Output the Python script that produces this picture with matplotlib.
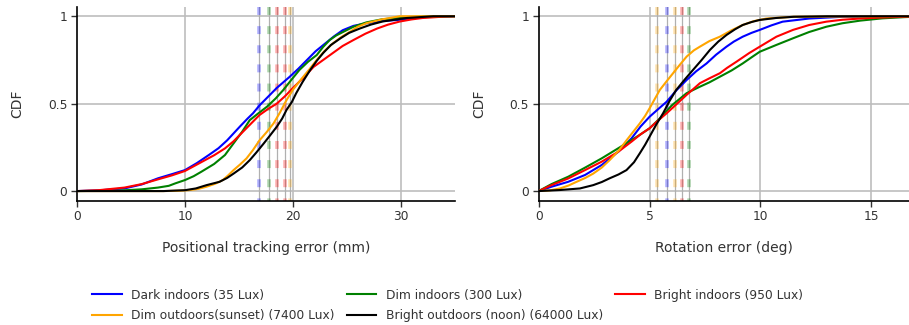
import matplotlib
matplotlib.use("Agg")
import matplotlib.pyplot as plt

# series labels and colours
labels = ["Dark indoors (35 Lux)", "Dim indoors (300 Lux)", "Bright indoors (950 Lux)",
          "Dim outdoors(sunset) (7400 Lux)", "Bright outdoors (noon) (64000 Lux)"]
colors = ["blue", "green", "red", "orange", "black"]

# positional tracking error (mm) vs CDF
pos_dark_x = [0, 2, 4.4, 6, 7.5, 8.8, 10, 11.1, 12.2, 13.1, 13.9, 14.5, 15.1, 15.8, 16.3, 16.9, 17.7, 18.5, 19.7, 20.5, 21.3, 22.1, 23.0, 23.8, 24.6, 25.6, 26.8, 28.2, 29.9, 32, 35]
pos_dark_y = [0, 0.004, 0.015, 0.038, 0.073, 0.097, 0.12, 0.16, 0.206, 0.245, 0.29, 0.33, 0.37, 0.415, 0.445, 0.49, 0.54, 0.59, 0.654, 0.7, 0.75, 0.8, 0.845, 0.885, 0.92, 0.945, 0.96, 0.972, 0.98, 0.995, 1.0]
pos_dim_x = [0, 4, 6, 7.5, 8.5, 9.1, 10, 10.8, 11.5, 12.7, 13.7, 14.5, 15.3, 16.0, 16.8, 17.6, 18.4, 19.1, 19.9, 20.6, 21.4, 22.2, 22.8, 23.4, 24.0, 24.7, 25.6, 26.8, 28.2, 29.9, 32, 35]
pos_dim_y = [0, 0.003, 0.01, 0.02, 0.03, 0.044, 0.063, 0.085, 0.11, 0.155, 0.206, 0.273, 0.34, 0.406, 0.445, 0.483, 0.53, 0.578, 0.64, 0.693, 0.74, 0.778, 0.825, 0.864, 0.89, 0.912, 0.94, 0.965, 0.982, 0.992, 0.998, 1.0]
pos_bright_x = [0, 2, 4.4, 6, 7.5, 8.8, 10, 11.5, 12.7, 13.7, 14.5, 15.7, 16.9, 17.7, 18.5, 19.3, 20.0, 21.0, 21.9, 22.8, 23.7, 24.6, 25.6, 26.7, 27.8, 28.8, 29.9, 31, 32, 34, 35]
pos_bright_y = [0, 0.005, 0.02, 0.04, 0.067, 0.09, 0.115, 0.165, 0.205, 0.244, 0.285, 0.36, 0.435, 0.47, 0.5, 0.545, 0.59, 0.65, 0.71, 0.75, 0.79, 0.83, 0.864, 0.9, 0.93, 0.952, 0.97, 0.982, 0.99, 0.998, 1.0]
pos_sunset_x = [0, 8, 9.5, 10.3, 11.2, 12, 12.8, 13.5, 14.0, 14.5, 15.1, 15.7, 16.3, 16.9, 17.6, 18.2, 18.8, 19.4, 20.0, 20.7, 21.5, 22.2, 22.9, 23.7, 24.5, 25.3, 26.0, 26.8, 28.3, 29.9, 35]
pos_sunset_y = [0, 0.0, 0.002, 0.005, 0.012, 0.025, 0.042, 0.063, 0.09, 0.12, 0.152, 0.187, 0.235, 0.29, 0.34, 0.387, 0.45, 0.52, 0.58, 0.635, 0.695, 0.75, 0.8, 0.845, 0.882, 0.912, 0.94, 0.96, 0.983, 1.0, 1.0]
pos_noon_x = [0, 8, 10, 11, 12, 13.2, 13.9, 14.5, 15.3, 16.0, 16.6, 17.3, 17.9, 18.5, 19.0, 19.4, 19.9, 20.3, 20.9, 21.6, 22.2, 22.8, 23.5, 24.4, 25.2, 26.2, 27.2, 28.3, 30.5, 33, 35]
pos_noon_y = [0, 0.0, 0.005, 0.015, 0.034, 0.053, 0.075, 0.1, 0.135, 0.177, 0.22, 0.273, 0.32, 0.368, 0.415, 0.464, 0.51, 0.56, 0.625, 0.693, 0.745, 0.79, 0.835, 0.874, 0.905, 0.93, 0.952, 0.97, 0.99, 1.0, 1.0]

# rotation error (deg) vs CDF
rot_dark_x = [0, 0.58, 1.33, 2.09, 2.84, 3.59, 4.19, 4.6, 5.0, 5.4, 5.77, 6.2, 6.67, 7.1, 7.57, 8.0, 8.47, 8.8, 9.2, 9.6, 9.97, 10.5, 11.0, 12.2, 13.7, 16.7]
rot_dark_y = [0, 0.025, 0.053, 0.092, 0.149, 0.225, 0.302, 0.37, 0.425, 0.47, 0.511, 0.575, 0.635, 0.685, 0.73, 0.78, 0.826, 0.855, 0.883, 0.905, 0.922, 0.948, 0.969, 0.987, 0.997, 1.0]
rot_dim_x = [0, 0.58, 1.33, 2.09, 2.84, 3.59, 4.19, 4.6, 5.0, 5.5, 6.0, 6.67, 7.27, 7.7, 8.17, 8.7, 9.2, 9.6, 9.97, 10.72, 11.47, 12.2, 12.97, 13.7, 14.5, 15.5, 16.5, 16.7]
rot_dim_y = [0, 0.04, 0.082, 0.134, 0.187, 0.245, 0.292, 0.325, 0.359, 0.42, 0.49, 0.56, 0.597, 0.622, 0.654, 0.69, 0.73, 0.765, 0.797, 0.836, 0.874, 0.91, 0.94, 0.96, 0.975, 0.988, 0.995, 0.996]
rot_bright_x = [0, 0.58, 1.33, 2.09, 2.84, 3.59, 4.19, 4.6, 5.0, 5.4, 5.77, 6.2, 6.67, 7.27, 7.7, 8.17, 8.5, 8.92, 9.5, 9.97, 10.72, 11.47, 12.2, 12.97, 13.7, 14.5, 15.5, 16.5, 16.7]
rot_bright_y = [0, 0.034, 0.072, 0.12, 0.168, 0.225, 0.283, 0.325, 0.359, 0.405, 0.445, 0.495, 0.55, 0.617, 0.645, 0.674, 0.705, 0.74, 0.79, 0.826, 0.883, 0.922, 0.95, 0.969, 0.98, 0.987, 0.993, 0.997, 0.998]
rot_sunset_x = [0, 0.5, 0.96, 1.35, 1.71, 2.1, 2.46, 2.85, 3.2, 3.6, 3.96, 4.3, 4.56, 4.8, 5.0, 5.46, 5.75, 6.06, 6.35, 6.67, 7.0, 7.27, 7.7, 8.17, 8.7, 9.2, 9.7, 10.27, 11.5, 16.7]
rot_sunset_y = [0, 0.004, 0.015, 0.032, 0.053, 0.075, 0.1, 0.135, 0.177, 0.23, 0.29, 0.345, 0.387, 0.43, 0.473, 0.578, 0.625, 0.674, 0.72, 0.769, 0.805, 0.826, 0.858, 0.883, 0.92, 0.95, 0.972, 0.987, 0.997, 1.0]
rot_noon_x = [0, 0.96, 1.86, 2.46, 2.85, 3.2, 3.6, 3.96, 4.3, 4.56, 4.8, 5.0, 5.3, 5.61, 5.9, 6.2, 6.6, 6.96, 7.35, 7.72, 8.1, 8.47, 8.85, 9.2, 9.6, 9.97, 10.7, 11.5, 13, 16.7]
rot_noon_y = [0, 0.006, 0.015, 0.034, 0.052, 0.073, 0.095, 0.12, 0.165, 0.216, 0.265, 0.311, 0.38, 0.445, 0.515, 0.578, 0.64, 0.693, 0.75, 0.807, 0.855, 0.893, 0.925, 0.95, 0.967, 0.979, 0.99, 0.997, 1.0, 1.0]

# dashed marker lines (as they appear, left to right)
pos_marks = [16.9, 17.75, 18.5, 19.26, 19.75]
pos_mark_colors = ["blue", "green", "red", "red", "orange"]
rot_marks = [5.33, 5.78, 6.15, 6.47, 6.77]
rot_mark_colors = ["orange", "blue", "orange", "red", "green"]

ylo, yhi = -0.055, 1.053

fig = plt.figure(figsize=(9.09, 3.25), dpi=100)
ax1 = fig.add_axes([0.0847, 0.3825, 0.4158, 0.596])
ax2 = fig.add_axes([0.5926, 0.3825, 0.4074, 0.596])


def style_axis(ax, xmax, xticks, xlabel):
    ax.set_xlim(0, xmax)
    ax.set_ylim(ylo, yhi)
    ax.set_xticks(xticks)
    ax.set_xticklabels([str(t) for t in xticks])
    ax.set_yticks([0, 0.5, 1])
    ax.set_yticklabels(["0", "0.5", "1"])
    for t in xticks[1:]:
        ax.axvline(t, color="#bdbdbd", lw=1.2, zorder=0)
    for t in [0, 0.5, 1]:
        ax.axhline(t, color="#bdbdbd", lw=1.2, zorder=0)
    for s in ["top", "right"]:
        ax.spines[s].set_visible(False)
    ax.spines["left"].set_linewidth(1.2)
    ax.spines["bottom"].set_linewidth(1.2)
    ax.tick_params(direction="out", length=4, width=1, labelsize=8.8, colors="#333333", pad=3)
    ax.set_xlabel(xlabel, fontsize=10, color="#333333", labelpad=13)
    ax.set_ylabel("CDF", fontsize=10, color="#333333", labelpad=17)


def draw_marks(ax, marks, mcolors):
    for m, c in zip(marks, mcolors):
        ax.plot([m, m], [yhi, ylo], color="#b0b0b0", lw=0.9, zorder=1)
        ax.plot([m, m], [yhi, ylo], color=c, alpha=0.3, lw=2.6, dashes=(2.2, 3.1), zorder=1)


style_axis(ax1, 35, [0, 10, 20, 30], "Positional tracking error (mm)")
style_axis(ax2, 16.7, [0, 5, 10, 15], "Rotation error (deg)")
draw_marks(ax1, pos_marks, pos_mark_colors)
draw_marks(ax2, rot_marks, rot_mark_colors)

pos_series = [(pos_dark_x, pos_dark_y), (pos_dim_x, pos_dim_y), (pos_bright_x, pos_bright_y),
              (pos_sunset_x, pos_sunset_y), (pos_noon_x, pos_noon_y)]
rot_series = [(rot_dark_x, rot_dark_y), (rot_dim_x, rot_dim_y), (rot_bright_x, rot_bright_y),
              (rot_sunset_x, rot_sunset_y), (rot_noon_x, rot_noon_y)]

handles = []
for (x, y), c in zip(pos_series, colors):
    ax1.plot(x, y, color=c, lw=1.5, zorder=3)
for (x, y), c, lab in zip(rot_series, colors, labels):
    h, = ax2.plot(x, y, color=c, lw=1.5, zorder=3, label=lab)
    handles.append(h)

# row-major legend order for 3 columns
order = [0, 3, 1, 4, 2]
fig.legend([handles[i] for i in order], [labels[i] for i in order], ncol=3,
           loc="upper left", bbox_to_anchor=(0.101, 0.112), frameon=False,
           fontsize=8.8, handlelength=2.45, handletextpad=0.74, columnspacing=1.0,
           labelspacing=0.6, borderaxespad=0, borderpad=0,
           labelcolor="#333333")

fig.savefig("out.png", dpi=100)
plt.close()
